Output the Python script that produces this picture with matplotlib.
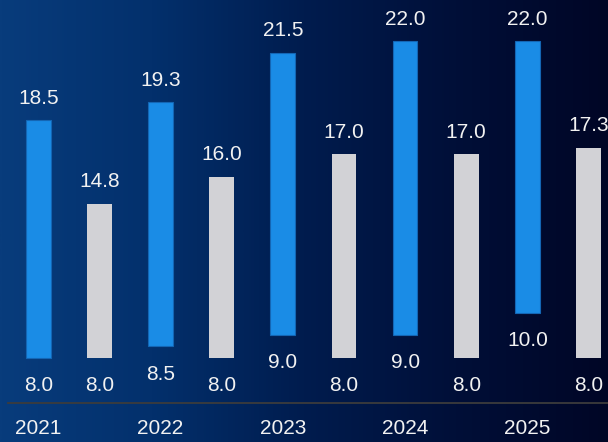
import numpy as np
import matplotlib
matplotlib.use("Agg")
import matplotlib.pyplot as plt
from matplotlib.colors import LinearSegmentedColormap

years = ["2021", "2022", "2023", "2024", "2025"]
blue_low = [8.0, 8.5, 9.0, 9.0, 10.0]
blue_high = [18.5, 19.3, 21.5, 22.0, 22.0]
gray_low = [8.0, 8.0, 8.0, 8.0, 8.0]
gray_high = [14.8, 16.0, 17.0, 17.0, 17.3]

plt.rcParams["font.family"] = ["Liberation Sans", "DejaVu Sans"]

fig = plt.figure(figsize=(6.08, 4.42), dpi=100)
ax = fig.add_axes([0, 0, 1, 1])
ax.set_xlim(-0.627, 9.32)
ax.set_ylim(4.27, 23.83)
ax.axis("off")

# horizontal background gradient, deep blue to near-black navy
bg = LinearSegmentedColormap.from_list(
    "bg", ["#083c7c", "#03306c", "#001c4e", "#000f38", "#000626"])
grad = np.linspace(0, 1, 512).reshape(1, -1)
ax.imshow(grad, cmap=bg, aspect="auto", extent=[0, 1, 0, 1],
          transform=ax.transAxes, zorder=0)

xb = np.arange(len(years)) * 2.0
xg = xb + 1.0
width = 0.404
txt = "#f2f2f2"
fs = 15

bh = np.array(blue_high) - np.array(blue_low)
gh = np.array(gray_high) - np.array(gray_low)
ax.bar(xb, bh, bottom=blue_low, width=width, color="#1a8ce6",
       edgecolor="#1466b4", linewidth=0.8, zorder=2)
ax.bar(xg, gh, bottom=gray_low, width=width, color="#d2d2d6",
       linewidth=0, zorder=2)

for xs, lo, hi in ((xb, blue_low, blue_high), (xg, gray_low, gray_high)):
    for x, l, h in zip(xs, lo, hi):
        ax.annotate(f"{h:.1f}", xy=(x, h), xytext=(0, 12.0),
                    textcoords="offset points", ha="center", va="baseline",
                    color=txt, fontsize=fs, zorder=3)
        ax.annotate(f"{l:.1f}", xy=(x, l), xytext=(0, -24.0),
                    textcoords="offset points", ha="center", va="baseline",
                    color=txt, fontsize=fs, zorder=3)

# baseline axis
ax.plot([-0.5, 9.5], [6.0, 6.0], color="#3c3c3c", linewidth=1.3,
        zorder=2, clip_on=False)

for x, y in zip(xb, years):
    ax.annotate(y, xy=(x, 6.0), xytext=(0, -22.7),
                textcoords="offset points", ha="center", va="baseline",
                color=txt, fontsize=fs, zorder=3)

fig.savefig("out.png", dpi=100)
